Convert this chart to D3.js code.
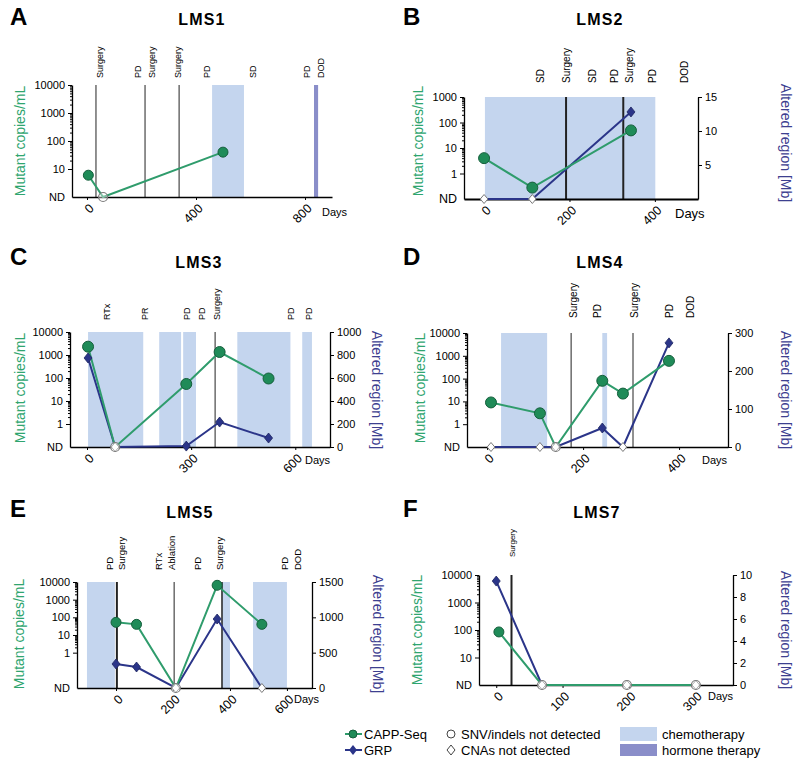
<!DOCTYPE html>
<html><head><meta charset="utf-8">
<script src="https://cdn.jsdelivr.net/npm/d3@7"></script>
<style>body{margin:0;background:#fff}svg{display:block}text{font-family:"Liberation Sans",Arial,sans-serif}</style>
</head><body><svg id="c" width="800" height="762"></svg>
<script>
// ---------------- DATA ----------------
// CAPP-Seq values: mutant copies/mL (0 = not detected); GRP values: altered region [Mb] (0 = not detected)
// LMS1 (A)
const lms1CappDays = [5, 59, 499];
const lms1CappVals = [6, 0, 40];
const lms1GrpDays = [];
const lms1GrpVals = [];
const lms1Lines = [33, 213, 338];
const lms1LabelText = ["Surgery", "PD", "Surgery", "Surgery", "PD", "SD", "PD", "DOD"];
const lms1LabelDays = [48, 187, 239, 334, 440, 609, 807, 858];
const lms1Chemo = [[459, 576]];
const lms1Hormone = [[833, 848]];
const lms1XTicks = [0, 400, 800];
const lms1RTicks = [];

// LMS2 (B)
const lms2CappDays = [0, 113, 344];
const lms2CappVals = [4, 0.28, 49];
const lms2GrpDays = [0, 113, 344];
const lms2GrpVals = [0, 0, 12.8];
const lms2Lines = [192, 326];
const lms2LabelText = ["SD", "Surgery", "SD", "PD", "Surgery", "PD", "DOD"];
const lms2LabelDays = [131, 192, 255, 306, 341, 395, 470];
const lms2Chemo = [[2, 401]];
const lms2Hormone = [];
const lms2XTicks = [0, 200, 400];
const lms2RTicks = [5, 10, 15];

// LMS3 (C)
const lms3CappDays = [3, 81, 286, 382, 523];
const lms3CappVals = [2300, 0, 55, 1350, 95];
const lms3GrpDays = [3, 81, 286, 382, 523];
const lms3GrpVals = [774, 0, 8, 217, 78];
const lms3Lines = [369];
const lms3LabelText = ["RTx", "PR", "PD", "PD", "Surgery", "PD", "PD"];
const lms3LabelDays = [58, 167, 288, 332, 375, 586, 638];
const lms3Chemo = [[3, 162], [208, 271], [277, 314], [433, 586], [620, 648]];
const lms3Hormone = [];
const lms3XTicks = [0, 300, 600];
const lms3RTicks = [0, 200, 400, 600, 800, 1000];

// LMS4 (D)
const lms4CappDays = [8, 110, 143, 240, 283, 379];
const lms4CappVals = [9, 3, 0, 80, 22, 600];
const lms4GrpDays = [8, 110, 143, 240, 283, 379];
const lms4GrpVals = [0, 0, 0, 50, 0, 274];
const lms4Lines = [175, 304];
const lms4LabelText = ["Surgery", "PD", "Surgery", "PD", "DOD"];
const lms4LabelDays = [179, 231, 308, 381, 423];
const lms4Chemo = [[29, 125], [240, 250]];
const lms4Hormone = [];
const lms4XTicks = [0, 200, 400];
const lms4RTicks = [0, 100, 200, 300];

// LMS5 (E)
const lms5CappDays = [0, 72, 210, 355, 512];
const lms5CappVals = [52, 40, 0, 6500, 40];
const lms5GrpDays = [0, 72, 210, 355, 512];
const lms5GrpVals = [340, 297, 0, 976, 0];
const lms5Lines = [3, 204, 372];
const lms5LabelText = ["PD", "Surgery", "RTx", "Ablation", "PD", "Surgery", "PD", "DOD"];
const lms5LabelDays = [-21, 21, 151, 196, 288, 365, 593, 639];
const lms5Chemo = [[-102, -4], [372, 400], [481, 600]];
const lms5Hormone = [];
const lms5XTicks = [0, 200, 400, 600];
const lms5RTicks = [0, 500, 1000, 1500];

// LMS7 (F)
const lms7CappDays = [4, 69, 197, 301];
const lms7CappVals = [85, 0, 0, 0];
const lms7GrpDays = [0, 69, 197, 301];
const lms7GrpVals = [9.45, 0, 0, 0];
const lms7Lines = [23];
const lms7LabelText = ["Surgery"];
const lms7LabelDays = [24];
const lms7Chemo = [];
const lms7Hormone = [];
const lms7XTicks = [0, 100, 200, 300];
const lms7RTicks = [0, 2, 4, 6, 8, 10];

const panelLetters = ["A", "B", "C", "D", "E", "F"];
const panelTitles = ["LMS1", "LMS2", "LMS3", "LMS4", "LMS5", "LMS7"];
const legendLines = ["CAPP-Seq", "GRP"];
const legendHollow = ["SNV/indels not detected", "CNAs not detected"];
const legendBands = ["chemotherapy", "hormone therapy"];

// ---------------- LAYOUT / STYLE ----------------
const GREEN_LINE = "#2f9c6c", GREEN_FILL = "#1f8b58", GREEN_STROKE = "#155f3c", GREEN_TEXT = "#2fa56f";
const NAVY = "#2b3589", NAVY_TEXT = "#3d4090", CHEMO = "#c4d5ee", HORMONE = "#8a8ec9", HOLLOW = "#7a7a7a";

const panels = [
  {capp:[lms1CappDays,lms1CappVals], grp:[lms1GrpDays,lms1GrpVals], lines:lms1Lines, lt:lms1LabelText, ld:lms1LabelDays, chemo:lms1Chemo, hormone:lms1Hormone, xt:lms1XTicks, rt:lms1RTicks,
   letter:[10,25], title:[202,25], x0:72, x1:332, y0:85, y1:197, dd:[-55,899], ld10:[0,4], rd:null, lb:78, lf:9, lw:[1,1,1],
   yl:[20,141], rl:null, days:[322,216], r:5},
  {capp:[lms2CappDays,lms2CappVals], grp:[lms2GrpDays,lms2GrpVals], lines:lms2Lines, lt:lms2LabelText, ld:lms2LabelDays, chemo:lms2Chemo, hormone:lms2Hormone, xt:lms2XTicks, rt:lms2RTicks,
   letter:[403,25], title:[600,25], x0:464, x1:698, y0:97, y1:199, dd:[-47,501], ld10:[-1,3], rd:[0,15], lb:83, lf:10, lw:[2,2],
   yl:[418,141], rl:[786,143], days:[675,218], r:5.5},
  {capp:[lms3CappDays,lms3CappVals], grp:[lms3GrpDays,lms3GrpVals], lines:lms3Lines, lt:lms3LabelText, ld:lms3LabelDays, chemo:lms3Chemo, hormone:lms3Hormone, xt:lms3XTicks, rt:lms3RTicks,
   letter:[10,265], title:[199,268], x0:70, x1:330, y0:332, y1:447, dd:[-49,700], ld10:[-1,4], rd:[0,1000], lb:320, lf:9, lw:[1],
   yl:[20,388], rl:[377,390], days:[305,464], r:5.5},
  {capp:[lms4CappDays,lms4CappVals], grp:[lms4GrpDays,lms4GrpVals], lines:lms4Lines, lt:lms4LabelText, ld:lms4LabelDays, chemo:lms4Chemo, hormone:lms4Hormone, xt:lms4XTicks, rt:lms4RTicks,
   letter:[403,265], title:[600,268], x0:467, x1:728, y0:333, y1:447, dd:[-42,502], ld10:[-1,4], rd:[0,300], lb:318, lf:10, lw:[1,1],
   yl:[420,388], rl:[786,390], days:[702,464], r:5.5},
  {capp:[lms5CappDays,lms5CappVals], grp:[lms5GrpDays,lms5GrpVals], lines:lms5Lines, lt:lms5LabelText, ld:lms5LabelDays, chemo:lms5Chemo, hormone:lms5Hormone, xt:lms5XTicks, rt:lms5RTicks,
   letter:[10,517], title:[190,518], x0:77, x1:312, y0:582, y1:688, dd:[-137,688], ld10:[-2,4], rd:[0,1500], lb:570, lf:9.5, lw:[2,1,1.5],
   yl:[19,634], rl:[378,634], days:[294,703], r:5},
  {capp:[lms7CappDays,lms7CappVals], grp:[lms7GrpDays,lms7GrpVals], lines:lms7Lines, lt:lms7LabelText, ld:lms7LabelDays, chemo:lms7Chemo, hormone:lms7Hormone, xt:lms7XTicks, rt:lms7RTicks,
   letter:[403,517], title:[597,518], x0:479, x1:733, y0:575, y1:685, dd:[-26,357], ld10:[0,4], rd:[0,10], lb:557, lf:8, lw:[2],
   yl:[417,630], rl:[786,630], days:[708,700], r:5}
];

const svg = d3.select("#c");
const diamond = (w, h) => `M0,${-h}L${w},0L0,${h}L${-w},0Z`;

function styleAxis(sel, fs) {
  sel.attr("font-family", "Liberation Sans, Arial, sans-serif").attr("font-size", fs);
  sel.selectAll("path.domain").attr("stroke", "#000").attr("stroke-width", 1.3);
  sel.selectAll(".tick line").attr("stroke", "#000");
  sel.selectAll(".tick text").attr("fill", "#000");
}

panels.forEach((p, i) => {
  const g = svg.append("g");
  const x = d3.scaleLinear().domain(p.dd).range([p.x0, p.x1]);
  const y = d3.scaleLog().domain([Math.pow(10, p.ld10[0]), Math.pow(10, p.ld10[1])]).range([p.y1, p.y0]);
  const yv = v => v > 0 ? y(v) : p.y1;
  const yr = p.rd ? d3.scaleLinear().domain(p.rd).range([p.y1, p.y0]) : null;
  const yg = v => yr(v);

  // letter and title
  g.append("text").attr("x", p.letter[0]).attr("y", p.letter[1]).attr("font-size", 24).attr("font-weight", "bold").text(panelLetters[i]);
  g.append("text").attr("x", p.title[0]).attr("y", p.title[1]).attr("text-anchor", "middle").attr("font-size", 16)
    .attr("font-weight", "bold").attr("letter-spacing", 1.2).text(panelTitles[i]);

  // therapy bands
  p.chemo.forEach(([a, b]) => g.append("rect").attr("x", x(a)).attr("y", p.y0).attr("width", x(b) - x(a))
    .attr("height", p.y1 - p.y0).attr("fill", CHEMO));
  p.hormone.forEach(([a, b]) => g.append("rect").attr("x", x(a)).attr("y", p.y0).attr("width", x(b) - x(a))
    .attr("height", p.y1 - p.y0).attr("fill", HORMONE));

  // event lines
  p.lines.forEach((d, k) => g.append("line").attr("x1", x(d)).attr("x2", x(d)).attr("y1", p.y0).attr("y2", p.y1)
    .attr("stroke", "#222").attr("stroke-width", p.lw[k] || p.lw[0]));

  // event labels
  p.lt.forEach((t, k) => g.append("text")
    .attr("transform", `translate(${x(p.ld[k])},${p.lb}) rotate(-90)`)
    .attr("dy", "0.35em").attr("font-size", p.lf).text(t));

  // left axis (log)
  const lo = Math.max(p.ld10[0] + 1, 0);
  const decades = d3.range(lo, p.ld10[1] + 1).map(e => Math.pow(10, e));
  const minors = [];
  for (let e = lo; e < p.ld10[1]; e++) for (let m = 2; m <= 9; m++) minors.push(m * Math.pow(10, e));
  const gl = g.append("g").attr("transform", `translate(${p.x0},0)`)
    .call(d3.axisLeft(y).tickValues(decades).tickFormat(d3.format("d")).tickSize(4).tickSizeOuter(0));
  styleAxis(gl, 11);
  const gm = g.append("g").attr("transform", `translate(${p.x0},0)`)
    .call(d3.axisLeft(y).tickValues(minors).tickFormat("").tickSize(2).tickSizeOuter(0));
  gm.select("path.domain").remove();
  gm.selectAll(".tick line").attr("stroke", "#000");
  g.append("text").attr("x", p.x0 - 7).attr("y", p.y1).attr("dy", "0.35em").attr("text-anchor", "end")
    .attr("font-size", i === 1 ? 12.5 : 11).text("ND");

  // right axis (linear)
  if (yr) {
    const gr = g.append("g").attr("transform", `translate(${p.x1},0)`)
      .call(d3.axisRight(yr).tickValues(p.rt).tickFormat(d3.format("d")).tickSize(4).tickSizeOuter(0));
    styleAxis(gr, 11);
  }

  // bottom axis
  const gx = g.append("g").attr("transform", `translate(0,${p.y1})`)
    .call(d3.axisBottom(x).tickValues(p.xt).tickSize(3).tickSizeOuter(0));
  styleAxis(gx, 12.5);
  gx.select("path.domain").attr("stroke-width", i === 1 ? 2 : 1.5);
  gx.selectAll(".tick text").attr("text-anchor", "end").attr("dy", "0.35em").attr("y", 0)
    .attr("transform", "translate(4,9) rotate(-45)");
  g.append("text").attr("x", p.days[0]).attr("y", p.days[1]).attr("font-size", i === 1 ? 13 : 11).text("Days");

  // axis titles
  g.append("text").attr("transform", `translate(${p.yl[0]},${p.yl[1]}) rotate(-90)`).attr("text-anchor", "middle")
    .attr("dy", "0.35em").attr("font-size", 14).attr("fill", GREEN_TEXT).text("Mutant copies/mL");
  if (p.rl) g.append("text").attr("transform", `translate(${p.rl[0]},${p.rl[1]}) rotate(90)`).attr("text-anchor", "middle")
    .attr("dy", "0.35em").attr("font-size", 14).attr("fill", NAVY_TEXT).text("Altered region [Mb]");

  // series
  const grp = p.grp[0].map((d, k) => ({d, v: p.grp[1][k]}));
  const capp = p.capp[0].map((d, k) => ({d, v: p.capp[1][k]}));
  if (grp.length) {
    g.append("path").datum(grp).attr("fill", "none").attr("stroke", NAVY).attr("stroke-width", 2)
      .attr("d", d3.line().x(q => x(q.d)).y(q => yg(q.v)));
  }
  g.append("path").datum(capp).attr("fill", "none").attr("stroke", GREEN_LINE).attr("stroke-width", 2)
    .attr("d", d3.line().x(q => x(q.d)).y(q => yv(q.v)));

  grp.forEach(q => {
    if (q.v > 0) g.append("path").attr("transform", `translate(${x(q.d)},${yg(q.v)})`).attr("d", diamond(4, 5))
      .attr("fill", NAVY).attr("stroke", "#1d2460").attr("stroke-width", 0.8);
    else g.append("path").attr("transform", `translate(${x(q.d)},${yg(q.v)})`).attr("d", diamond(3.8, 4.5))
      .attr("fill", "#fff").attr("stroke", HOLLOW).attr("stroke-width", 1);
  });
  capp.forEach(q => {
    if (q.v > 0) g.append("circle").attr("cx", x(q.d)).attr("cy", yv(q.v)).attr("r", p.r)
      .attr("fill", GREEN_FILL).attr("stroke", GREEN_STROKE).attr("stroke-width", 1);
    else g.append("circle").attr("cx", x(q.d)).attr("cy", yv(q.v)).attr("r", 4.5)
      .attr("fill", "#fff").attr("fill-opacity", 0.4).attr("stroke", HOLLOW).attr("stroke-width", 1.2);
  });
});

// ---------------- LEGEND ----------------
const lg = svg.append("g").attr("font-size", 13);
const rowsY = [734, 750];
lg.append("line").attr("x1", 345).attr("x2", 362).attr("y1", rowsY[0]).attr("y2", rowsY[0]).attr("stroke", GREEN_LINE).attr("stroke-width", 2);
lg.append("circle").attr("cx", 353).attr("cy", rowsY[0]).attr("r", 4).attr("fill", GREEN_FILL).attr("stroke", GREEN_STROKE);
lg.append("line").attr("x1", 345).attr("x2", 362).attr("y1", rowsY[1]).attr("y2", rowsY[1]).attr("stroke", NAVY).attr("stroke-width", 2);
lg.append("path").attr("transform", `translate(353,${rowsY[1]})`).attr("d", diamond(4, 5)).attr("fill", NAVY);
legendLines.forEach((t, k) => lg.append("text").attr("x", 364).attr("y", rowsY[k]).attr("dy", "0.35em").text(t));
lg.append("circle").attr("cx", 451).attr("cy", rowsY[0]).attr("r", 4).attr("fill", "#fff").attr("stroke", "#444");
lg.append("path").attr("transform", `translate(451,${rowsY[1]})`).attr("d", diamond(4, 5)).attr("fill", "#fff").attr("stroke", "#444");
legendHollow.forEach((t, k) => lg.append("text").attr("x", 461).attr("y", rowsY[k]).attr("dy", "0.35em").text(t));
lg.append("rect").attr("x", 620).attr("y", 727).attr("width", 37).attr("height", 14).attr("fill", CHEMO);
lg.append("rect").attr("x", 620).attr("y", 744).attr("width", 37).attr("height", 12).attr("fill", HORMONE);
legendBands.forEach((t, k) => lg.append("text").attr("x", 662).attr("y", rowsY[k]).attr("dy", "0.35em").text(t));
</script></body></html>
